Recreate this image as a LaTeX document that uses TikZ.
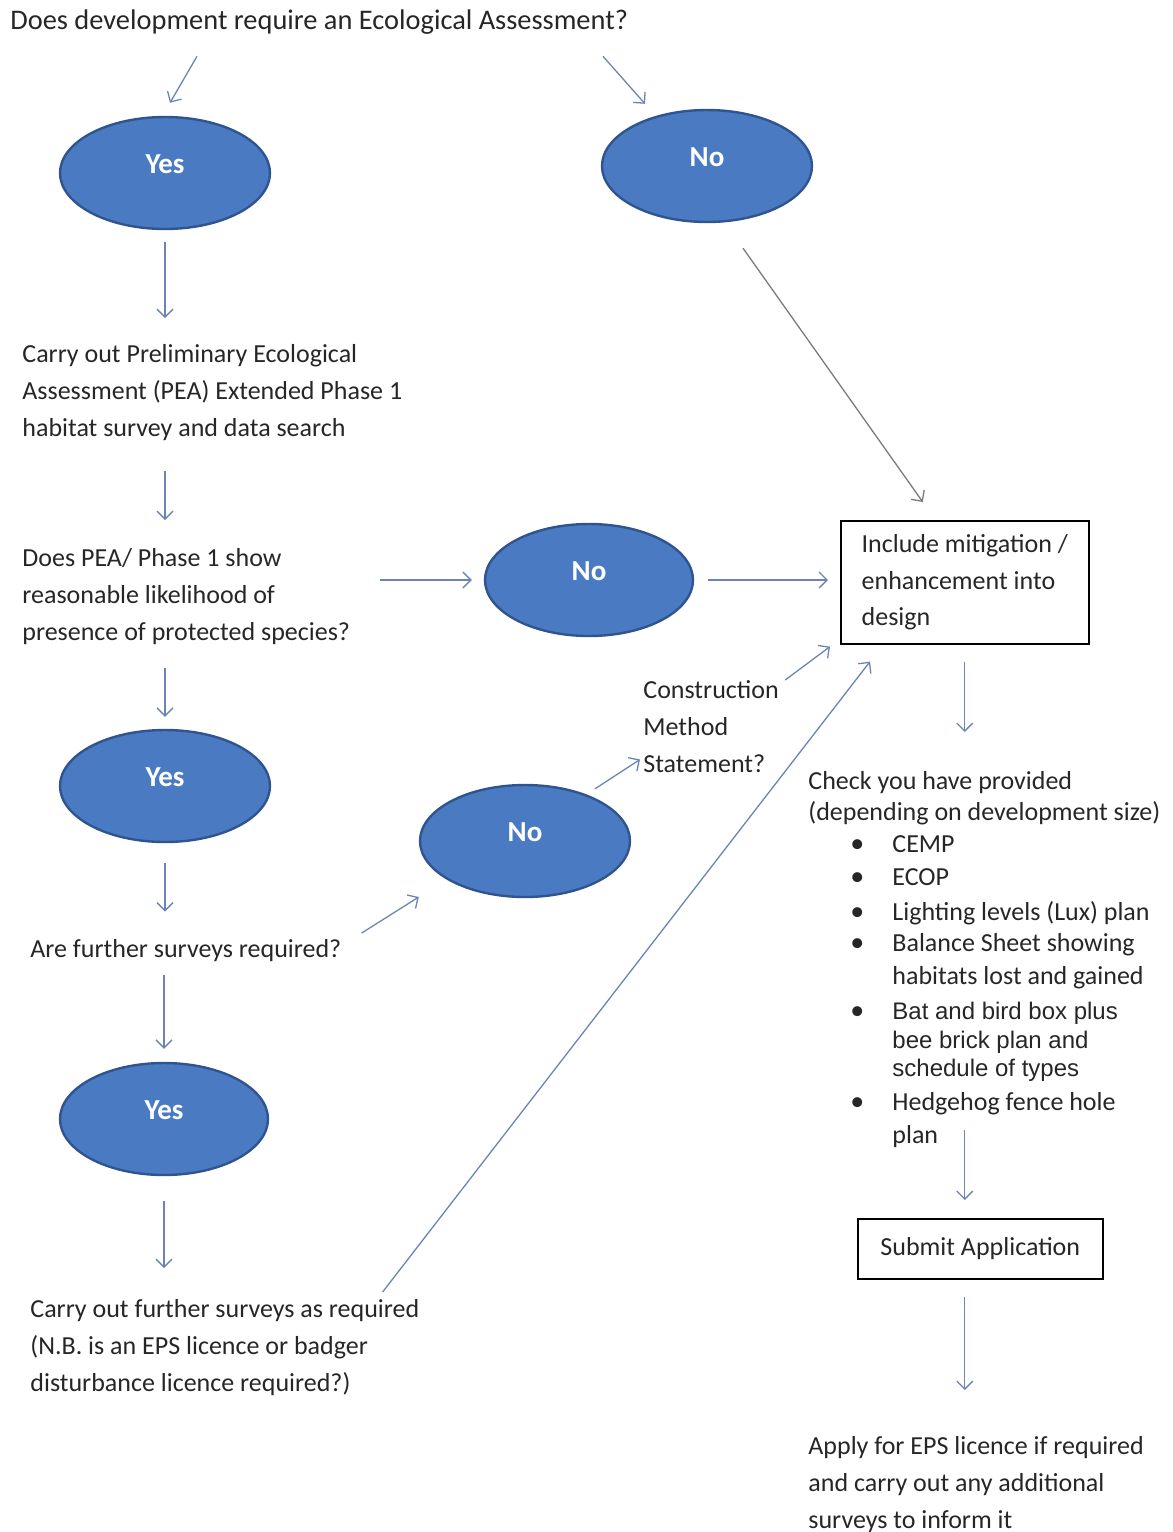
\documentclass[tikz,border=0pt]{standalone}
\usepackage{fontspec}
\setmainfont{Carlito}
\newfontfamily\arialfont{Liberation Sans}
\usetikzlibrary{shapes.geometric,arrows.meta,calc}
\definecolor{ovalfill}{HTML}{4A7BC2}
\definecolor{ovaldraw}{HTML}{2F5490}
\definecolor{arrowblue}{HTML}{6A85B4}
\definecolor{arrowgrey}{HTML}{7B7B7B}
\definecolor{inktext}{HTML}{262626}
\tikzset{
    oval/.style = {ellipse, draw=ovaldraw, fill=ovalfill, line width=1.2pt,
        minimum width=105pt, minimum height=56pt, inner sep=0pt,
        text=white, font=\fontsize{14.5}{17}\selectfont\bfseries,
        text height=8pt, text depth=8pt},
    txt/.style = {align=left, inner sep=0pt, anchor=north west, text=inktext,
        font=\fontsize{13}{18.5}\selectfont},
    block/.style = {draw, rectangle, line width=0.8pt, inner sep=0pt,
        anchor=north west, text=inktext, font=\fontsize{13}{18.25}\selectfont},
    listitem/.style = {txt, font=\fontsize{13}{16.5}\selectfont},
    arr/.style = {draw=arrowblue, line width=0.65pt,
        -{Straight Barb[length=4pt,width=8pt]}}
}
\newcommand\listbullet{\llap{{\rmfamily\fontsize{14}{14}\selectfont\textbullet}\hspace{14pt}}}

\begin{document}
\begin{tikzpicture}[x=0.5pt, y=-0.5pt]
    \useasboundingbox (0,0) rectangle (1173,1532);
    % left column
    \node [txt, anchor=base west, font=\fontsize{14.2}{17}\selectfont] (q1) at (10,29) {Does development require an Ecological Assessment?};
    \node [oval] (yes1) at (165,173) {Yes};
    \node [oval] (no1) at (707,166) {No};
    \node [txt] (pea) at (22,344) {Carry out Preliminary Ecological\\Assessment (PEA) Extended Phase 1\\habitat survey and data search};
    \node [txt] (likely) at (22,548) {Does PEA/ Phase 1 show\\reasonable likelihood of\\presence of protected species?};
    \node [oval, minimum width=104pt] (no2) at (589,580) {No};
    \node [oval] (yes2) at (165,786) {Yes};
    \node [txt, anchor=base west] (further) at (30,957) {Are further surveys required?};
    \node [oval] (no3) at (525,841) {No};
    \node [txt] (method) at (643,680) {Construction\\Method\\Statement?};
    \node [oval, minimum width=104pt] (yes3) at (164,1119) {Yes};
    \node [txt] (carry) at (30,1299) {Carry out further surveys as required\\(N.B. is an EPS licence or badger\\disturbance licence required?)};
    % right column
    \node [block, align=left, minimum width=124pt, minimum height=61.5pt] (mitig) at (840,520) {Include mitigation /\\enhancement into\\design};
    \node [txt, font=\fontsize{13}{15.5}\selectfont] (check) at (808,771) {Check you have provided\\(depending on development size)};
    \node [listitem] (cemp) at (892,835) {\listbullet CEMP};
    \node [listitem] (ecop) at (892,868) {\listbullet ECOP};
    \node [listitem] (lux) at (892,901) {\listbullet Lighting levels (Lux) plan};
    \node [listitem] (balance) at (892,933) {\listbullet Balance Sheet showing\\habitats lost and gained};
    \node [listitem, font=\arialfont\fontsize{12}{14.25}\selectfont] (boxes) at (892,1002) {\listbullet Bat and bird box plus\\bee brick plan and\\schedule of types};
    \node [listitem] (hedge) at (892,1092) {\listbullet Hedgehog fence hole\\plan};
    \node [block, align=center, minimum width=122.5pt, minimum height=30pt] (submit) at (857,1218) {Submit Application};
    \node [txt] (apply) at (808,1436) {Apply for EPS licence if required\\and carry out any additional\\surveys to inform it};

    \draw [arr] ([xshift=93.5pt,yshift=-11pt]q1.south west) -- ([xshift=2.5pt,yshift=6.5pt]yes1.north);
    \draw [arr] ([xshift=296.5pt,yshift=-11pt]q1.south west) -- ([xshift=-31pt,yshift=2.5pt]no1.north);
    \draw [arr, shorten <=6pt, shorten >=13pt] (yes1.south) -- (yes1.south |- pea.north);
    \draw [arr, shorten <=15pt, shorten >=14pt] (yes1.south |- pea.south) -- (yes1.south |- likely.north);
    \draw [arr, shorten <=15pt, shorten >=6pt] (likely.east |- no2.west) -- (no2.west);
    \draw [arr, shorten <=7pt, shorten >=6pt] (no2.east) -- (mitig.west |- no2.east);
    \draw [arr, draw=arrowgrey] ([xshift=18pt,yshift=-12.5pt]no1.south) -- ([xshift=-21pt,yshift=9pt]mitig.north);
    \draw [arr, shorten <=8.5pt, shorten >=19.5pt] (mitig.south) -- (mitig.south |- check.north);
    \draw [arr, shorten <=11.5pt, shorten >=6pt] (yes2.north |- likely.south) -- (yes2.north);
    \draw [arr, shorten <=10pt, shorten >=13.5pt] (yes2.south) -- (yes2.south |- further.north);
    \draw [arr] ([xshift=10pt,yshift=8.5pt]further.east) -- ([yshift=-28pt]no3.west);
    \draw [arr] ([xshift=35pt,yshift=-2.5pt]no3.north) -- ([xshift=-1.5pt,yshift=-16.5pt]method.west);
    \draw [arr] ([xshift=3pt]method.north east) -- ([xshift=-5pt,yshift=-1pt]mitig.south west);
    \draw [arr, shorten <=6.5pt, shorten >=6.5pt] (yes3.north |- further.south) -- (yes3.north);
    \draw [arr, shorten <=12.5pt, shorten >=15.5pt] (yes3.south) -- (yes3.south |- carry.north);
    \draw [arr] ([xshift=-18.5pt,yshift=3.5pt]carry.north east) -- ([xshift=15pt,yshift=-8.5pt]mitig.south west);
    \draw [arr, shorten <=19pt, shorten >=9pt] (mitig.south |- hedge.north) -- (mitig.south |- submit.north);
    \draw [arr, shorten <=8.5pt, shorten >=23pt] (mitig.south |- submit.south) -- (mitig.south |- apply.north);
\end{tikzpicture}
\end{document}
